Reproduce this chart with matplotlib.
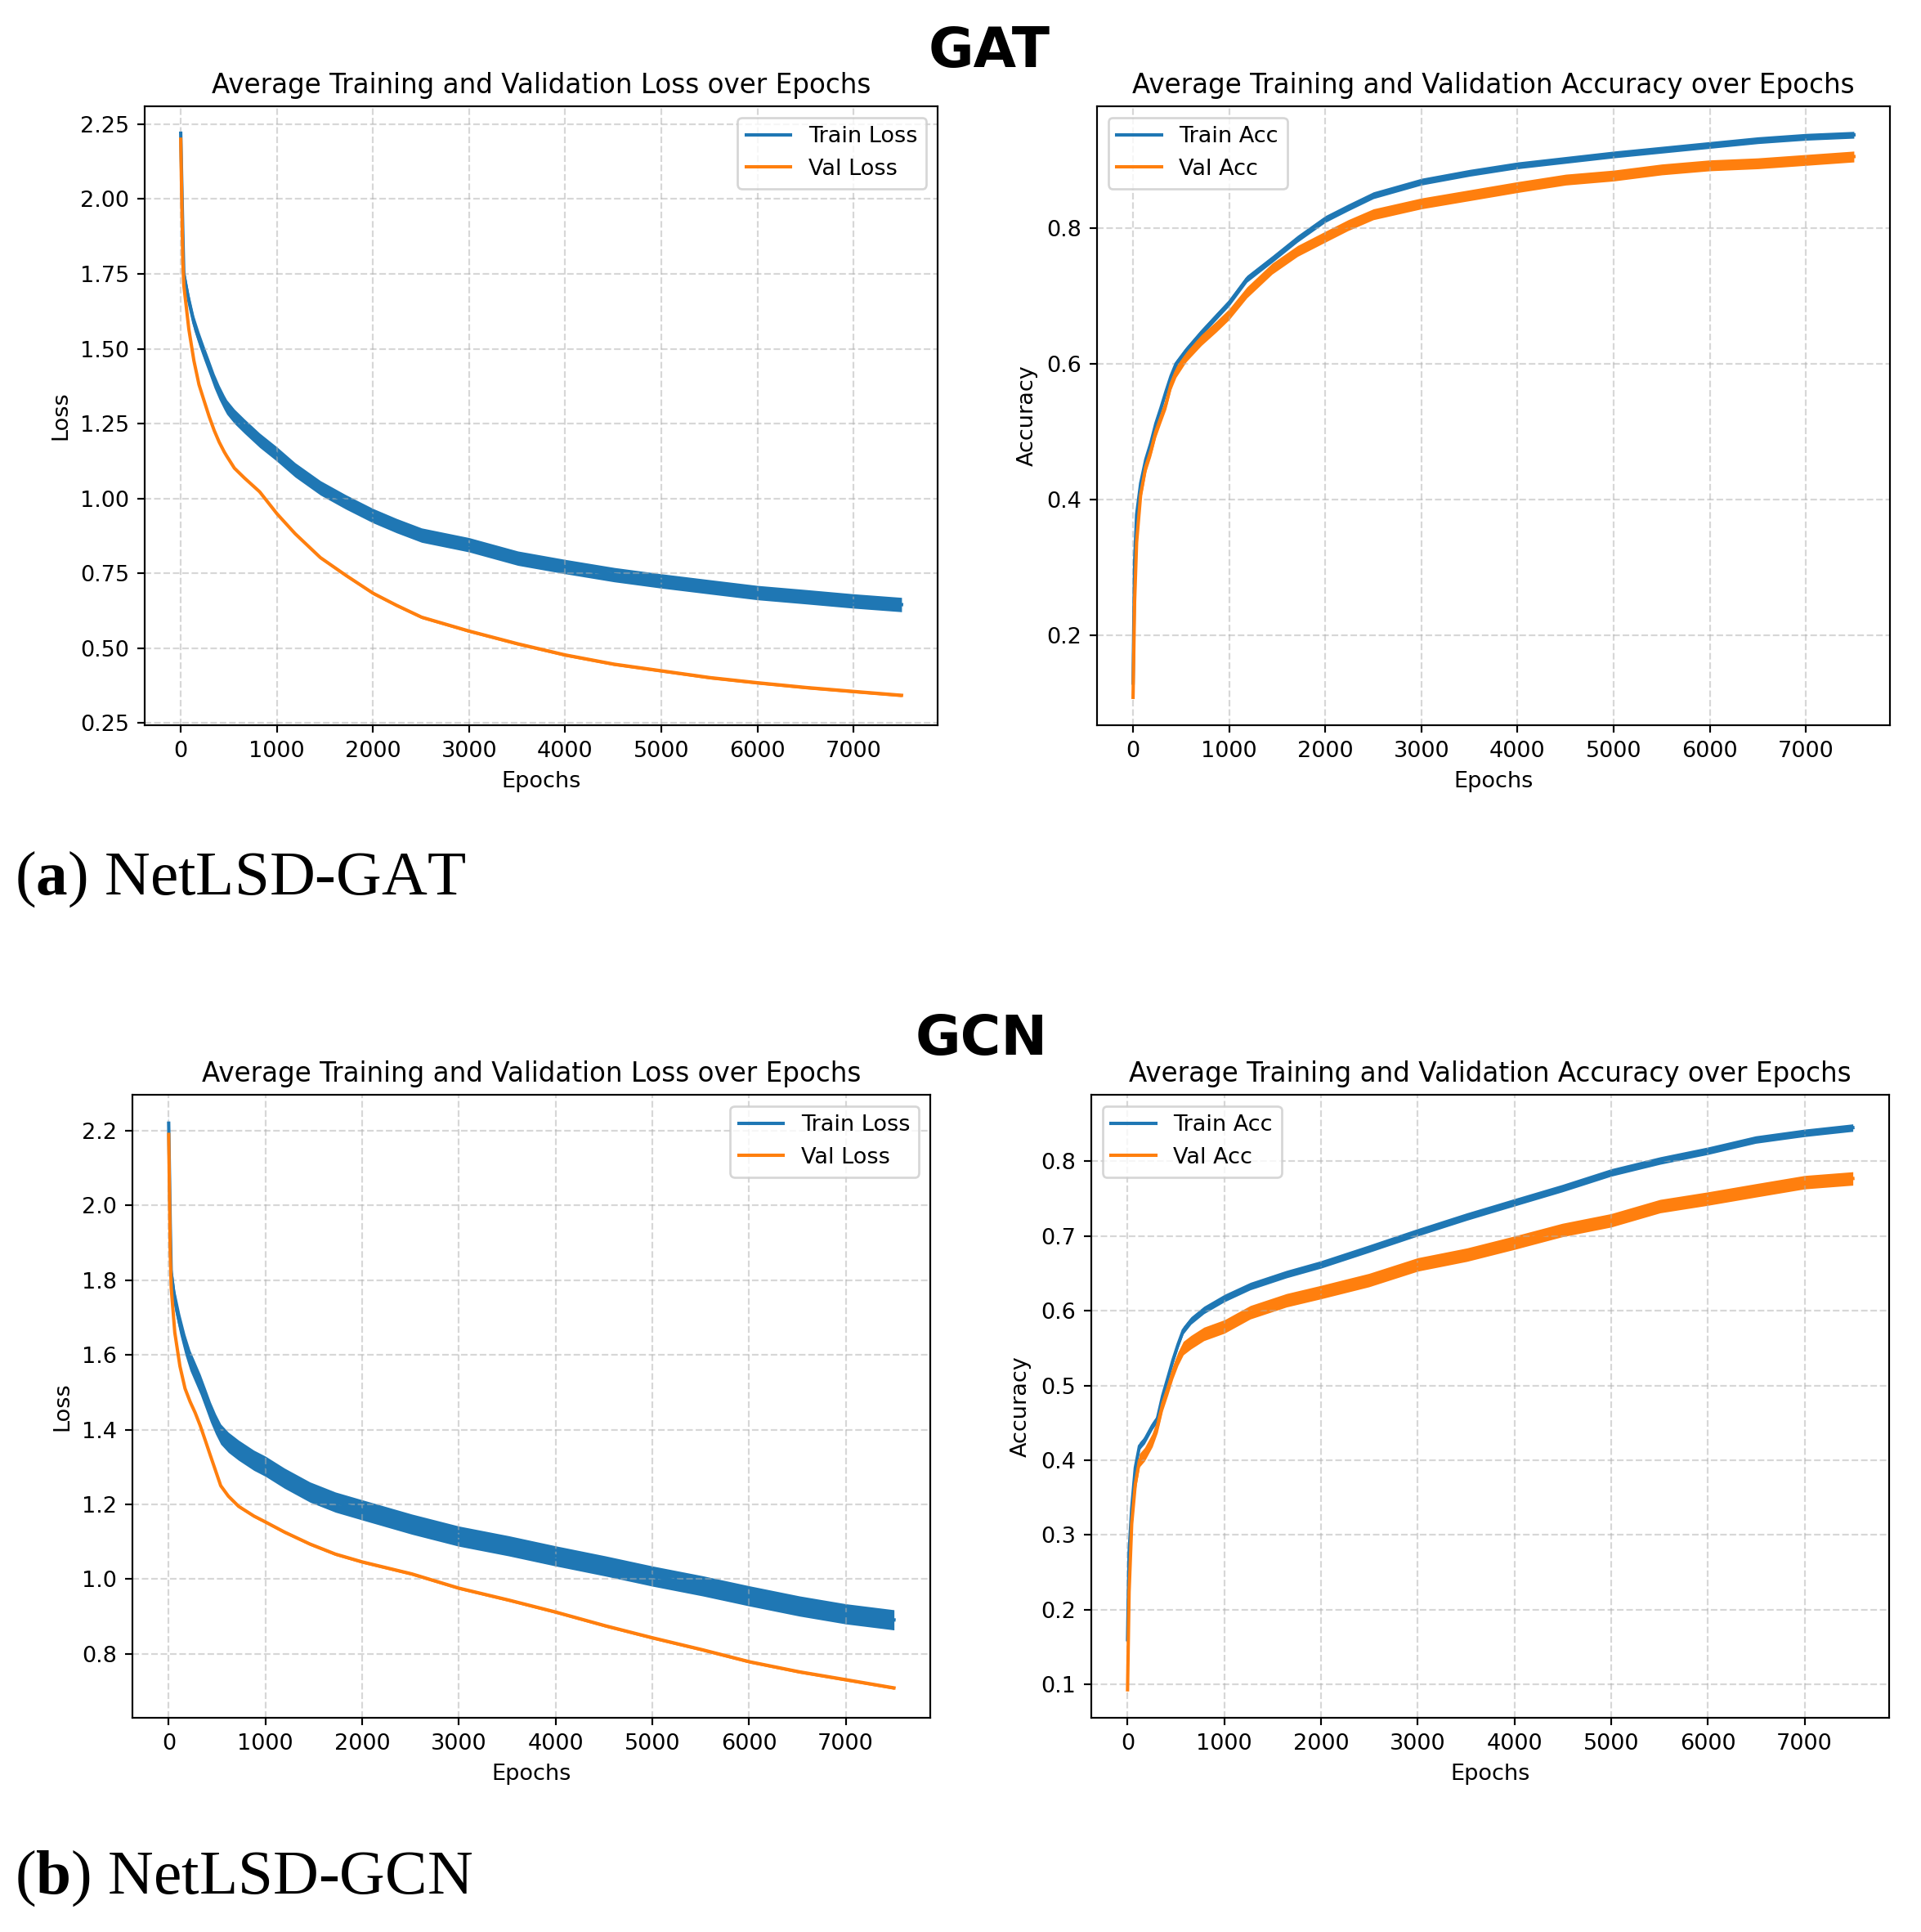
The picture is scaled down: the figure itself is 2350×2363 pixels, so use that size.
import matplotlib
matplotlib.use("Agg")
import matplotlib.pyplot as plt

W, H, DPI = 2350, 2363, 195

# ---- GAT ----
gat_loss_ep = [0, 21, 32, 84, 137, 190, 242, 295, 348, 400, 453, 479, 558, 663, 821, 1000, 1190,
               1453, 1717, 2001, 2243, 2506, 2996, 3507, 3997, 4508, 4997, 5508, 5998, 6509,
               6998, 7499]
gat_train_loss = [2.22, 1.90, 1.75, 1.66, 1.586, 1.533, 1.486, 1.44, 1.393, 1.354, 1.32, 1.305,
                  1.274, 1.241, 1.194, 1.148, 1.095, 1.035, 0.988, 0.942, 0.909, 0.877, 0.845,
                  0.80, 0.772, 0.745, 0.724, 0.704, 0.685, 0.671, 0.657, 0.645]
gat_val_loss = [2.20, 1.80, 1.712, 1.566, 1.46, 1.38, 1.327, 1.274, 1.227, 1.188, 1.155, 1.141,
                1.101, 1.068, 1.022, 0.949, 0.882, 0.802, 0.743, 0.683, 0.643, 0.603, 0.557,
                0.514, 0.477, 0.446, 0.424, 0.401, 0.384, 0.368, 0.355, 0.342]

gat_acc_ep = [0, 16, 37, 79, 132, 184, 237, 290, 342, 395, 447, 553, 711, 868, 1000, 1184, 1447,
              1711, 2000, 2237, 2500, 3000, 3500, 4000, 4500, 5000, 5500, 6000, 6500, 7000, 7499]
gat_train_acc = [0.13, 0.307, 0.378, 0.424, 0.459, 0.483, 0.512, 0.535, 0.559, 0.582, 0.600,
                 0.620, 0.646, 0.670, 0.690, 0.725, 0.754, 0.784, 0.813, 0.830, 0.848, 0.868,
                 0.881, 0.892, 0.900, 0.908, 0.915, 0.922, 0.929, 0.934, 0.937]
gat_val_acc = [0.109, 0.249, 0.337, 0.407, 0.448, 0.471, 0.500, 0.521, 0.541, 0.570, 0.588,
               0.611, 0.635, 0.655, 0.673, 0.705, 0.740, 0.766, 0.787, 0.804, 0.820, 0.836,
               0.848, 0.860, 0.871, 0.877, 0.886, 0.892, 0.895, 0.900, 0.905]

# ---- GCN ----
gcn_loss_ep = [0, 16, 26, 63, 116, 169, 221, 274, 327, 380, 432, 485, 538, 617, 722, 880, 1000,
               1197, 1460, 1724, 2003, 2514, 2999, 3516, 4001, 4518, 5003, 5519, 6004, 6521,
               7001, 7499]
gcn_train_loss = [2.22, 1.95, 1.82, 1.746, 1.682, 1.628, 1.585, 1.553, 1.521, 1.484, 1.447,
                  1.415, 1.388, 1.366, 1.345, 1.318, 1.302, 1.270, 1.233, 1.206, 1.185, 1.147,
                  1.115, 1.089, 1.062, 1.035, 1.008, 0.982, 0.955, 0.928, 0.907, 0.891]
gcn_val_loss = [2.19, 1.874, 1.78, 1.66, 1.57, 1.51, 1.475, 1.445, 1.41, 1.37, 1.33, 1.29,
                1.25, 1.222, 1.195, 1.169, 1.153, 1.126, 1.094, 1.067, 1.046, 1.014, 0.976,
                0.944, 0.912, 0.875, 0.843, 0.811, 0.779, 0.752, 0.731, 0.709]

gcn_acc_ep = [0, 16, 43, 80, 123, 176, 256, 309, 362, 416, 469, 522, 576, 656, 789, 1002, 1269,
              1642, 2000, 2495, 3001, 3507, 3998, 4494, 5000, 5506, 5997, 6493, 6999, 7499]
gcn_train_acc = [0.16, 0.277, 0.336, 0.390, 0.419, 0.427, 0.446, 0.456, 0.486, 0.510, 0.534,
                 0.555, 0.574, 0.587, 0.601, 0.617, 0.633, 0.649, 0.662, 0.683, 0.705, 0.726,
                 0.745, 0.764, 0.785, 0.801, 0.814, 0.829, 0.838, 0.845]
gcn_val_acc = [0.093, 0.224, 0.315, 0.368, 0.400, 0.408, 0.427, 0.446, 0.475, 0.496, 0.518,
               0.536, 0.550, 0.558, 0.569, 0.579, 0.598, 0.614, 0.625, 0.641, 0.662, 0.675,
               0.691, 0.708, 0.721, 0.740, 0.750, 0.761, 0.772, 0.777]

# half width of the noisy band around each curve
noise = {"gat_train_loss": 0.024, "gat_val_loss": 0.005, "gat_train_acc": 0.005,
         "gat_val_acc": 0.008, "gcn_train_loss": 0.027, "gcn_val_loss": 0.004,
         "gcn_train_acc": 0.005, "gcn_val_acc": 0.009}

BLUE, ORANGE = "#1f77b4", "#ff7f0e"

plt.rcParams["mathtext.fontset"] = "custom"
plt.rcParams["mathtext.rm"] = "Liberation Serif"
plt.rcParams["mathtext.bf"] = "Liberation Serif:bold"


def add_axes_px(fig, left, right, top, bottom):
    return fig.add_axes([left / W, 1 - bottom / H, (right - left) / W, (bottom - top) / H])


def draw_curve(ax, ep, vals, hw, color, label):
    lo = [v - hw for v in vals]
    hi = [v + hw for v in vals]
    ax.fill_between(ep, lo, hi, color=color, linewidth=0)
    ax.plot(ep, vals, color=color, label=label)


def panel(ax, ep, train, val, hw_t, hw_v, kind, ylim):
    draw_curve(ax, ep, train, hw_t, BLUE, "Train " + kind)
    draw_curve(ax, ep, val, hw_v, ORANGE, "Val " + kind)
    ax.set_ylim(*ylim)
    ax.set_xlabel("Epochs")
    if kind == "Loss":
        ax.set_ylabel("Loss")
        ax.set_title("Average Training and Validation Loss over Epochs")
        ax.legend(loc="upper right")
    else:
        ax.set_ylabel("Accuracy")
        ax.set_title("Average Training and Validation Accuracy over Epochs")
        ax.legend(loc="upper left")
    ax.grid(True, linestyle="--", alpha=0.5)


fig = plt.figure(figsize=(W / DPI, H / DPI), dpi=DPI)

ax1 = add_axes_px(fig, 177, 1147, 130, 887)
panel(ax1, gat_loss_ep, gat_train_loss, gat_val_loss, noise["gat_train_loss"],
      noise["gat_val_loss"], "Loss", (0.242, 2.31))
ax2 = add_axes_px(fig, 1342, 2312, 130, 887)
panel(ax2, gat_acc_ep, gat_train_acc, gat_val_acc, noise["gat_train_acc"],
      noise["gat_val_acc"], "Acc", (0.068, 0.979))
ax3 = add_axes_px(fig, 162, 1138, 1339, 2101)
panel(ax3, gcn_loss_ep, gcn_train_loss, gcn_val_loss, noise["gcn_train_loss"],
      noise["gcn_val_loss"], "Loss", (0.629, 2.296))
ax4 = add_axes_px(fig, 1335, 2311, 1339, 2101)
panel(ax4, gcn_acc_ep, gcn_train_acc, gcn_val_acc, noise["gcn_train_acc"],
      noise["gcn_val_acc"], "Acc", (0.0555, 0.889))

fig.text(1210 / W, 1 - 63 / H, "GAT", ha="center", va="center", fontsize=25, fontweight="bold")
fig.text(1201 / W, 1 - 1271 / H, "GCN", ha="center", va="center", fontsize=25, fontweight="bold")

fig.text(18 / W, 1 - 1075 / H, r"($\mathbf{a}$) NetLSD-GAT", ha="left", va="center",
         fontsize=28.5, family="Liberation Serif")
fig.text(18 / W, 1 - 2297 / H, r"($\mathbf{b}$) NetLSD-GCN", ha="left", va="center",
         fontsize=28.5, family="Liberation Serif")

fig.savefig("out.png", dpi=DPI)
